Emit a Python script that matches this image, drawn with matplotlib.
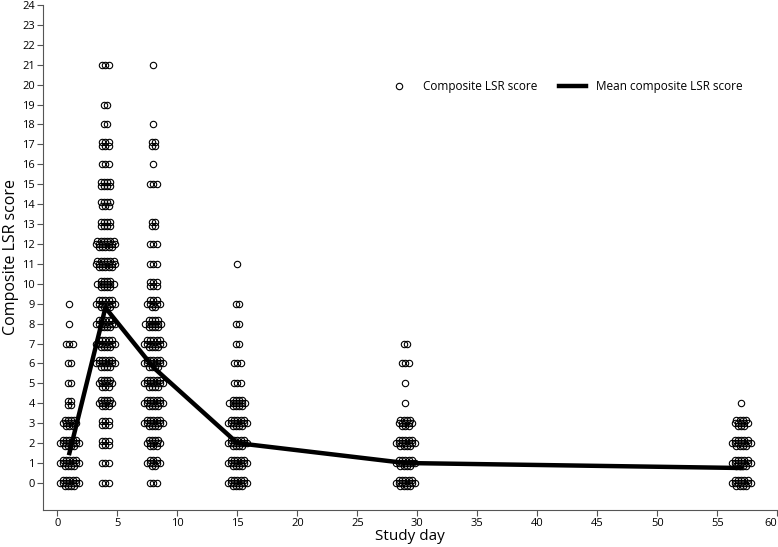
import matplotlib
matplotlib.use("Agg")
import matplotlib.pyplot as plt
from matplotlib import font_manager
import numpy as np

def pick_font(cands):
    for c in cands:
        try:
            font_manager.findfont(font_manager.FontProperties(family=c), fallback_to_default=False)
            return c
        except Exception:
            continue
    return 'DejaVu Sans'

main_font = pick_font(['Liberation Sans Narrow', 'Open Sans', 'Lato'])
plt.rcParams['font.family'] = [main_font, 'DejaVu Sans']

# Study days and number of subjects at each composite LSR score (index = score)
days = [1, 4, 8, 15, 29, 57]
counts_day1  = [16, 16, 16, 12, 4, 2, 2, 3, 1, 1]
counts_day4  = [3, 3, 6, 6, 12, 12, 16, 16, 16, 16, 14, 18, 18, 8, 7, 8, 3, 6, 2, 2, 0, 3]
counts_day8  = [3, 10, 12, 16, 16, 16, 16, 16, 14, 10, 6, 3, 3, 4, 0, 3, 1, 4, 1, 0, 0, 1]
counts_day15 = [16, 16, 16, 16, 14, 3, 3, 2, 2, 2, 0, 1]
counts_day29 = [16, 16, 16, 12, 1, 1, 3, 2]
counts_day57 = [16, 16, 16, 12, 1]
all_counts = [counts_day1, counts_day4, counts_day8, counts_day15, counts_day29, counts_day57]

mean_scores = [1.5, 8.8, 5.8, 2.0, 1.0, 0.75]

fig = plt.figure(figsize=(7.78, 5.47), dpi=100)
ax = fig.add_axes([0.0553, 0.0676, 0.9437, 0.9234])

def cluster(day, score, n):
    """Deterministic beeswarm-like layout for n points around (day, score)."""
    xs, ys = [], []
    if n <= 0:
        return xs, ys
    if n <= 3:
        rows = [n]
        offs = [0.0]
        sp = 0.3
    elif n <= 8:
        rows = [n // 2, n - n // 2]
        offs = [-0.1, 0.1]
        sp = 0.27
    else:
        mid = int(np.ceil(n / 3)) + 1
        rest = n - mid
        rows = [rest // 2, mid, rest - rest // 2]
        offs = [-0.16, 0.0, 0.16]
        sp = 0.27
    for r, dy in zip(rows, offs):
        for k in range(r):
            xs.append(day + (k - (r - 1) / 2) * sp)
            ys.append(score + dy)
    return xs, ys

px, py = [], []
for d, cnts in zip(days, all_counts):
    for s, n in enumerate(cnts):
        x, y = cluster(d, s, n)
        px += x
        py += y

ax.plot(px, py, linestyle='none', marker='o', markersize=4.6, markerfacecolor='none',
        markeredgecolor='black', markeredgewidth=0.8, label='Composite LSR score')
ax.plot(days, mean_scores, color='black', linewidth=3.2, label='Mean composite LSR score')

ax.set_xlim(-1.2, 60)
ax.set_ylim(-1.36, 24.0)
ax.set_xticks(range(0, 61, 5))
ax.set_yticks(range(0, 25))
for sp in ['top', 'right']:
    ax.spines[sp].set_visible(False)
for sp in ['left', 'bottom']:
    ax.spines[sp].set_color('#555555')
    ax.spines[sp].set_linewidth(0.8)
ax.tick_params(axis='both', labelsize=8, color='#555555', length=4, width=0.8, pad=2)
ax.get_xticklabels()[-1].set_horizontalalignment('right')
ax.set_xlabel('Study day', fontsize=11, va='center')
ax.xaxis.set_label_coords(0.5, -0.052)
ax.set_ylabel('Composite LSR score', fontsize=11.5, va='center')
ax.yaxis.set_label_coords(-0.043, 0.5)

ax.legend(loc='upper right', bbox_to_anchor=(0.968, 0.872), ncol=2, frameon=False,
          fontsize=8.5, handlelength=2.3, columnspacing=1.8, handletextpad=0.9)

fig.savefig('out.png', dpi=100)
